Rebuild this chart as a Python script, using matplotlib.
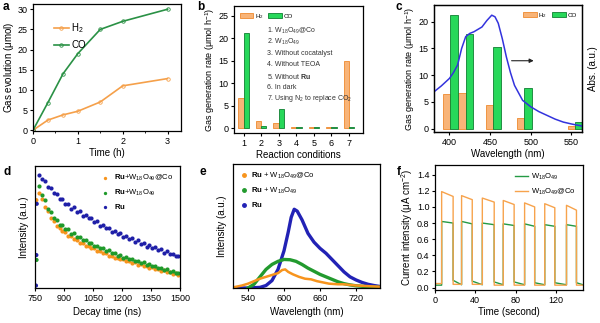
import numpy as np
import matplotlib.pyplot as plt
from matplotlib.lines import Line2D

plt.rcParams['font.family'] = 'Liberation Sans'
plt.rcParams['font.size'] = 7
plt.rcParams['axes.linewidth'] = 0.9
plt.rcParams['xtick.major.size'] = 2.5
plt.rcParams['ytick.major.size'] = 2.5
plt.rcParams['xtick.minor.size'] = 1.5
plt.rcParams['ytick.minor.size'] = 1.5
plt.rcParams['xtick.major.pad'] = 1.5
plt.rcParams['ytick.major.pad'] = 1.5
plt.rcParams['mathtext.fontset'] = 'custom'
plt.rcParams['mathtext.rm'] = 'Liberation Sans'
plt.rcParams['mathtext.it'] = 'Liberation Sans:italic'
plt.rcParams['mathtext.bf'] = 'Liberation Sans:bold'
plt.rcParams['mathtext.default'] = 'regular'

ORANGE = '#f5a04a'
GREEN = '#2a9145'
BAR_OR = '#f8b478'
BAR_OR_E = '#ee8a2e'
BAR_GR = '#27d85a'
BAR_GR_E = '#0f7f31'
BLUE = '#1f1fa8'
TICK = 6.5

# ---- a: gas evolution vs time
t_a = [0, 0.33, 0.67, 1.0, 1.5, 2.0, 3.0]
h2_a = [0, 2.5, 3.8, 4.7, 7.0, 11.0, 12.8]
co_a = [0, 6.8, 14.0, 19.0, 25.0, 27.0, 30.0]

# ---- b: reaction conditions
cond = [1, 2, 3, 4, 5, 6, 7]
h2_b = [6.6, 1.6, 1.1, 0.2, 0.2, 0.2, 15.0]
co_b = [21.2, 0.4, 4.3, 0.2, 0.2, 0.2, 0.2]
cond_text = [r'1. W$_{18}$O$_{49}$@Co', r'2. W$_{18}$O$_{49}$', '3. Without cocatalyst',
             '4. Without TEOA', r'5. Without $\mathbf{Ru}$', '6. In dark',
             r'7. Using N$_2$ to replace CO$_2$']

# ---- c: wavelength dependence
wl_c = [401, 420, 454, 492, 555]
h2_c = [6.5, 6.6, 4.5, 2.0, 0.5]
co_c = [21.2, 17.6, 15.3, 7.6, 1.3]
abs_wl = [381, 390, 400, 405, 410, 415, 420, 425, 430, 440, 446, 452, 456, 460, 465,
          470, 475, 480, 490, 500, 510, 520, 530, 540, 550, 560, 565]
abs_val = [6.9, 8.0, 9.4, 10.5, 11.9, 15.0, 17.2, 17.8, 18.1, 19.0, 20.2, 21.2, 20.9,
           19.7, 16.8, 13.4, 10.5, 8.1, 5.3, 4.1, 3.2, 2.5, 1.8, 1.25, 0.9, 0.6, 0.45]

# ---- d: PL decay
t_d = list(range(772, 1500, 15))
ru_d = [0.93, 0.89, 0.88, 0.83, 0.82, 0.78, 0.77, 0.73, 0.73, 0.69, 0.69, 0.65, 0.66,
        0.62, 0.63, 0.59, 0.60, 0.57, 0.57, 0.54, 0.55, 0.51, 0.52, 0.49, 0.49, 0.46,
        0.47, 0.44, 0.45, 0.42, 0.43, 0.40, 0.41, 0.38, 0.39, 0.36, 0.37, 0.34, 0.355,
        0.33, 0.34, 0.31, 0.32, 0.29, 0.30, 0.28, 0.28, 0.26, 0.26]
rw_d = [0.84, 0.76, 0.72, 0.65, 0.62, 0.57, 0.56, 0.52, 0.52, 0.48, 0.48, 0.445, 0.45,
        0.415, 0.42, 0.39, 0.39, 0.365, 0.37, 0.345, 0.345, 0.325, 0.33, 0.305, 0.31,
        0.285, 0.29, 0.265, 0.27, 0.25, 0.255, 0.235, 0.24, 0.22, 0.225, 0.205, 0.21,
        0.19, 0.195, 0.18, 0.18, 0.165, 0.165, 0.15, 0.155, 0.135, 0.14, 0.125, 0.125]
rwc_d = [0.78, 0.73, 0.66, 0.63, 0.57, 0.55, 0.51, 0.495, 0.465, 0.455, 0.43, 0.425,
         0.40, 0.395, 0.37, 0.37, 0.345, 0.345, 0.325, 0.325, 0.305, 0.305, 0.285,
         0.285, 0.265, 0.265, 0.25, 0.25, 0.235, 0.235, 0.22, 0.22, 0.205, 0.21, 0.19,
         0.195, 0.18, 0.18, 0.165, 0.17, 0.155, 0.155, 0.14, 0.145, 0.13, 0.135, 0.115,
         0.12, 0.105]
rise_t = [757, 759, 758, 757, 755]
rise_y = [0.72, 0.69, 0.23, 0.27, 0.02]
rise_c = ['o', 'b', 'g', 'b', 'b']

# ---- e: steady-state PL
wl_ru = [515, 540, 560, 570, 580, 590, 600, 607, 612, 617, 622, 630, 640, 650, 660, 670,
         680, 690, 700, 710, 720, 730, 740, 750, 760]
pl_ru = [0.0, 0.0, 0.005, 0.02, 0.06, 0.15, 0.30, 0.45, 0.57, 0.635, 0.62, 0.55, 0.44,
         0.37, 0.32, 0.28, 0.23, 0.18, 0.13, 0.09, 0.065, 0.045, 0.03, 0.02, 0.012]
wl_rw = [540, 550, 560, 570, 580, 590, 600, 610, 620, 630, 640, 650, 660, 670, 680, 690,
         700, 710, 720, 740, 760]
pl_rw = [0.0, 0.03, 0.09, 0.15, 0.19, 0.215, 0.23, 0.228, 0.215, 0.19, 0.16, 0.135, 0.11,
         0.09, 0.07, 0.05, 0.035, 0.025, 0.018, 0.01, 0.005]
wl_rwc = [515, 530, 540, 550, 560, 570, 580, 590, 597, 602, 607, 615, 625, 635, 645, 655,
          665, 675, 690, 700, 710, 720, 740, 760]
pl_rwc = [0.005, 0.02, 0.035, 0.055, 0.075, 0.09, 0.105, 0.12, 0.145, 0.15, 0.13, 0.11,
          0.09, 0.075, 0.07, 0.055, 0.045, 0.035, 0.03, 0.03, 0.025, 0.02, 0.015, 0.01]

# ---- f: photocurrent on/off
on_start = [6.6, 26.4, 47.0, 67.8, 89.0, 109.0, 130.6]
on_end = [18.0, 37.0, 58.8, 78.6, 99.0, 119.0, 140.5]
w_on0 = [0.82, 0.82, 0.80, 0.79, 0.79, 0.78, 0.78]
w_on1 = [0.80, 0.79, 0.78, 0.77, 0.76, 0.76, 0.76]
wc_on0 = [1.19, 1.14, 1.11, 1.08, 1.05, 1.04, 1.02]
wc_on1 = [1.13, 1.09, 1.06, 1.03, 1.00, 0.99, 0.96]
w_off = [0.03, 0.09, 0.08, 0.07, 0.07, 0.06, 0.06, 0.06]
wc_off = [0.05, 0.04, 0.04, 0.03, 0.03, 0.03, 0.03, 0.03]


def add_ax(l, t, r, b):
    return fig.add_axes([l / 600, 1 - b / 323, (r - l) / 600, (b - t) / 323])


def style(ax):
    ax.tick_params(direction='out', top=False, right=False, labelsize=TICK)


fig = plt.figure(figsize=(6, 3.23), dpi=100)

# a
ax = add_ax(33, 4, 181, 131)
ax.plot(t_a, h2_a, '-o', color=ORANGE, lw=1.2, ms=2.5, mfc='none', mew=0.6, label='H$_2$')
ax.plot(t_a, co_a, '-o', color=GREEN, lw=1.2, ms=2.5, mfc='none', mew=0.6, label='CO')
ax.set_xlim(0, 3.3)
ax.set_ylim(-0.2, 31.3)
ax.set_xticks([0, 1, 2, 3])
ax.set_xticks([0.5, 1.5, 2.5], minor=True)
ax.set_yticks(range(0, 31, 5))
ax.set_xlabel('Time (h)', labelpad=2)
ax.set_ylabel('Gas evolution ($\\mu$mol)', labelpad=1)
ax.legend(loc='upper left', bbox_to_anchor=(0.08, 0.93), frameon=False, fontsize=7,
          handlelength=1.6, handletextpad=0.2, labelspacing=0.5)
style(ax)

# b
ax = add_ax(234, 6, 363, 133)
x = np.array(cond)
ax.bar(x - 0.15, h2_b, 0.3, color=BAR_OR, edgecolor=BAR_OR_E, lw=0.6, label='H$_2$')
ax.bar(x + 0.15, co_b, 0.3, color=BAR_GR, edgecolor=BAR_GR_E, lw=0.6, label='CO')
ax.set_xlim(0.45, 7.8)
ax.set_ylim(-1.1, 27.2)
ax.set_xticks(cond)
ax.set_yticks(range(0, 26, 5))
ax.set_xlabel('Reaction conditions', labelpad=2)
ax.set_ylabel('Gas generation rate ($\\mu$mol h$^{-1}$)', labelpad=1, fontsize=6.5)
ax.legend(loc='upper left', bbox_to_anchor=(0.0, 1.0), ncol=2, frameon=False, fontsize=4.5,
          handlelength=2.2, handleheight=0.9, handletextpad=0.2, columnspacing=0.8)
for i, s in enumerate(cond_text):
    ax.text(2.34, 21.6 - i * 2.5, s, fontsize=5, va='center', color='#333333')
style(ax)

# c
ax = add_ax(434, 5, 582, 132)
x = np.array(wl_c)
ax.bar(x - 4.5, h2_c, 9, color=BAR_OR, edgecolor=BAR_OR_E, lw=0.6, label='H$_2$')
ax.bar(x + 4.5, co_c, 9, color=BAR_GR, edgecolor=BAR_GR_E, lw=0.6, label='CO')
ax.set_xlim(381, 563)
ax.set_ylim(-0.6, 23.1)
ax.set_xticks([400, 450, 500, 550])
ax.set_yticks([0, 5, 10, 15, 20])
ax.set_xlabel('Wavelength (nm)', labelpad=2)
ax.set_ylabel('Gas generation rate ($\\mu$mol h$^{-1}$)', labelpad=1, fontsize=6.5)
ax.legend(loc='upper right', bbox_to_anchor=(1.0, 1.0), ncol=2, frameon=False, fontsize=4.5,
          handlelength=2.2, handleheight=0.9, handletextpad=0.2, columnspacing=0.8)
ax.annotate('', xy=(507, 12.7), xytext=(473, 12.7),
            arrowprops=dict(arrowstyle='-|>', color='#222222', lw=0.8, mutation_scale=6))
style(ax)
ax2 = ax.twinx()
ax2.plot(abs_wl, abs_val, color='#3333dd', lw=1.1)
ax2.set_ylim(-0.6, 23.1)
ax2.set_yticks([])
ax2.set_ylabel('Abs. (a.u.)', labelpad=4)

# d
ax = add_ax(35, 166, 180, 288)
ax.scatter(t_d, rwc_d, s=9, color='#f7941d', lw=0, label=r'$\mathbf{Ru}$+W$_{18}$O$_{49}$@Co')
ax.scatter(t_d, rw_d, s=9, color='#1f9a2a', lw=0, label=r'$\mathbf{Ru}$+W$_{18}$O$_{49}$')
ax.scatter(t_d, ru_d, s=9, color=BLUE, lw=0, label=r'$\mathbf{Ru}$')
cmap = {'o': '#f7941d', 'g': '#1f9a2a', 'b': BLUE}
ax.scatter(rise_t, rise_y, s=9, c=[cmap[c] for c in rise_c], lw=0)
ax.set_xlim(750, 1500)
ax.set_ylim(0, 1)
ax.set_xticks([750, 900, 1050, 1200, 1350, 1500])
ax.set_yticks([])
ax.set_xlabel('Decay time (ns)', labelpad=3)
ax.set_ylabel('Intensity (a.u.)', labelpad=4)
ax.legend(loc='upper right', bbox_to_anchor=(1.0, 1.0), frameon=False, fontsize=5.5,
          handletextpad=0.1, labelspacing=0.6, markerscale=0.8)
style(ax)

# e
ax = add_ax(233, 164, 380, 288)
ax.plot(wl_ru, pl_ru, color='#2222b5', lw=2.4)
ax.plot(wl_rw, pl_rw, color='#229a2e', lw=2.4)
ax.plot(wl_rwc, pl_rwc, color='#f7941d', lw=1.8)
ax.set_xlim(515, 760)
ax.set_ylim(0, 1)
ax.set_xticks([540, 600, 660, 720])
ax.set_yticks([])
ax.set_xlabel('Wavelength (nm)', labelpad=3)
ax.set_ylabel('Intensity (a.u.)', labelpad=4)
e_labels = [r'$\mathbf{Ru}$ + W$_{18}$O$_{49}$@Co', r'$\mathbf{Ru}$ + W$_{18}$O$_{49}$',
            r'$\mathbf{Ru}$']
hh = [Line2D([], [], ls='none', marker='o', ms=2.5, color=c)
      for c in ['#f7941d', '#229a2e', '#2222b5']]
ax.legend(hh, e_labels, loc='upper left', bbox_to_anchor=(0.0, 1.0), frameon=False,
          fontsize=5.5, handletextpad=0.2, labelspacing=0.6, handlelength=1.2)
style(ax)

# f
ax = add_ax(435, 165, 583, 290)
tt_w, yy_w, tt_c, yy_c = [0], [w_off[0]], [0], [wc_off[0]]
for i in range(len(on_start)):
    nxt = on_start[i + 1] if i + 1 < len(on_start) else 147
    tt_w += [on_start[i], on_start[i], on_end[i], on_end[i], nxt]
    yy_w += [w_off[i], w_on0[i], w_on1[i], w_off[i + 1], 0.035]
    tt_c += [on_start[i], on_start[i], on_end[i], on_end[i], nxt]
    yy_c += [wc_off[i], wc_on0[i], wc_on1[i], wc_off[i + 1], wc_off[i + 1]]
ax.plot(tt_w, yy_w, color='#249a44', lw=1.0, label=r'W$_{18}$O$_{49}$')
ax.plot(tt_c, yy_c, color='#f7a34c', lw=1.0, label=r'W$_{18}$O$_{49}$@Co')
ax.set_xlim(0, 147)
ax.set_ylim(-0.03, 1.52)
ax.set_xticks([0, 40, 80, 120])
ax.set_yticks(np.arange(0, 1.41, 0.2))
ax.set_yticklabels(['0.0', '0.2', '0.4', '0.6', '0.8', '1.0', '1.2', '1.4'])
ax.set_xlabel('Time (second)', labelpad=2)
ax.set_ylabel('Current intensity ($\\mu$A cm$^{-2}$)', labelpad=1)
ax.legend(loc='upper right', bbox_to_anchor=(1.0, 1.0), frameon=False, fontsize=5.5,
          handlelength=1.8, handletextpad=0.4, labelspacing=0.6)
style(ax)

# panel letters
for s, px, py in [('a', 3, 7), ('b', 197, 7), ('c', 396, 7),
                  ('d', 3, 172), ('e', 199, 172), ('f', 397, 172)]:
    fig.text(px / 600, 1 - py / 323, s, fontsize=8.5, fontweight='bold', va='center')

fig.savefig('out.png', dpi=100)
